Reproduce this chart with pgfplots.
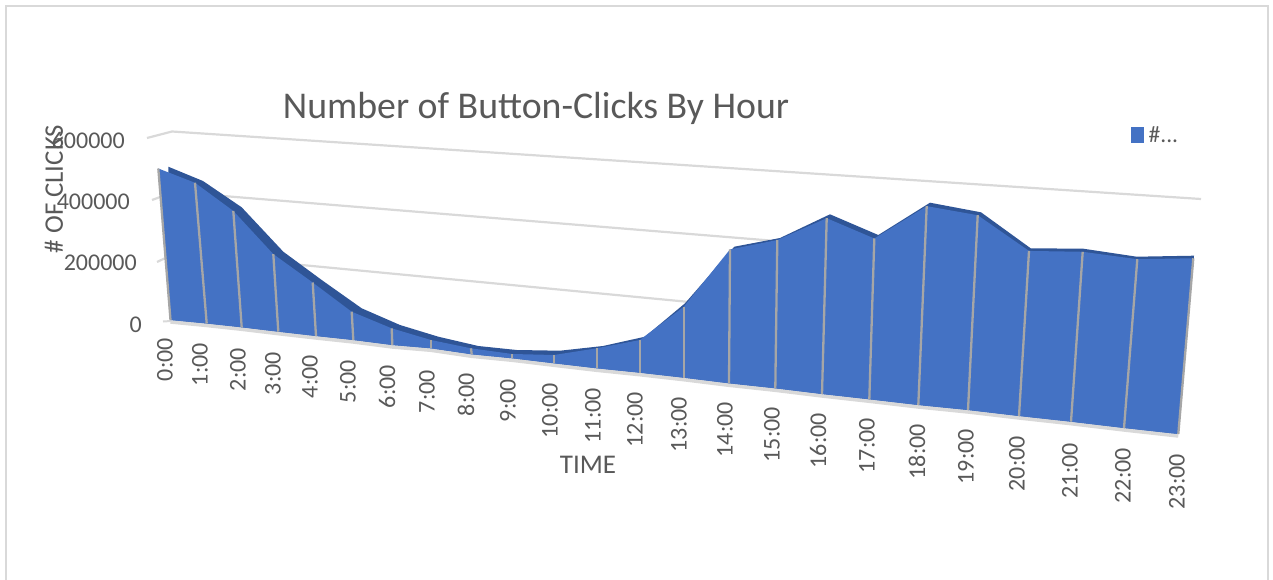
\documentclass[border=0pt]{standalone}
\usepackage{pgfplots}
\usepackage{pgfplotstable}
\usepackage{fontspec}
\setmainfont{Carlito}
\pgfplotsset{compat=1.18}
\definecolor{areablue}{HTML}{4472C4}
\definecolor{areadark}{HTML}{2F5597}
\definecolor{divgrey}{HTML}{A6A6A6}
\definecolor{wallgrey}{HTML}{D9D9D9}
\definecolor{txt}{HTML}{595959}
% clicks in thousands; the other columns place each hour on the slanted picture plane (pixels).
% Rows 24-47 walk back along the zero line, so that the rows together outline the filled area.
\pgfplotstableread{
hour clicks bx by tx backx backy
0 500.0 170.5 320.0 158.3 168.3 166.7
1 460.0 206.7 323.5 195.0 203.0 181.0
2 377.0 241.7 327.3 233.3 241.7 207.3
3 249.0 278.3 331.7 273.3 283.3 251.7
4 170.0 316.0 336.0 312.7 321.7 280.0
5 89.0 353.3 340.0 351.7 361.7 308.3
6 52.0 392.3 345.0 391.7 400.0 325.0
7 25.6 431.0 348.3 431.0 438.3 336.7
8 18.3 471.7 354.3 471.0 478.3 346.0
9 13.0 512.3 358.3 512.3 516.7 350.0
10 24.9 554.0 363.3 554.0 560.0 350.7
11 59.3 596.7 368.3 596.7 603.0 346.0
12 95.9 639.7 372.7 639.7 645.0 336.7
13 206.0 683.7 377.7 683.7 685.0 303.3
14 385.0 729.0 383.3 730.0 734.3 246.7
15 422.0 775.3 388.3 777.3 780.0 238.0
16 495.0 822.0 394.0 826.7 830.0 214.3
17 448.0 869.3 399.3 874.3 878.3 235.0
18 548.0 918.3 405.0 926.7 930.0 202.7
19 531.0 968.0 410.0 977.7 981.0 212.3
20 445.0 1019.0 416.0 1029.0 1030.7 248.3
21 453.0 1071.0 421.7 1082.7 1083.3 248.7
22 445.0 1124.0 428.0 1137.3 1136.7 256.7
23 458.0 1178.3 434.0 1193.3 1194.0 255.7
23 0 1178.3 434.0 1178.3 1178.3 434.0
22 0 1124.0 428.0 1124.0 1124.0 428.0
21 0 1071.0 421.7 1071.0 1071.0 421.7
20 0 1019.0 416.0 1019.0 1019.0 416.0
19 0 968.0 410.0 968.0 968.0 410.0
18 0 918.3 405.0 918.3 918.3 405.0
17 0 869.3 399.3 869.3 869.3 399.3
16 0 822.0 394.0 822.0 822.0 394.0
15 0 775.3 388.3 775.3 775.3 388.3
14 0 729.0 383.3 729.0 729.0 383.3
13 0 683.7 377.7 683.7 683.7 377.7
12 0 639.7 372.7 639.7 639.7 372.7
11 0 596.7 368.3 596.7 596.7 368.3
10 0 554.0 363.3 554.0 554.0 363.3
9 0 512.3 358.3 512.3 512.3 358.3
8 0 471.7 354.3 471.7 471.7 354.3
7 0 431.0 348.3 431.0 431.0 348.3
6 0 392.3 345.0 392.3 392.3 345.0
5 0 353.3 340.0 353.3 353.3 340.0
4 0 316.0 336.0 316.0 316.0 336.0
3 0 278.3 331.7 278.3 278.3 331.7
2 0 241.7 327.3 241.7 241.7 327.3
1 0 206.7 323.5 206.7 206.7 323.5
0 0 170.5 320.0 170.5 170.5 320.0
}\clicks
\newcommand{\topy}{\thisrow{by}-\thisrow{clicks}*(0.303+(\thisrow{bx}-170)*0.00008)}
\newcommand{\hl}[3]{\node[rotate=90, anchor=east, inner sep=0pt] at (axis cs:#2,#3) {\fontsize{24}{24}\selectfont #1};}
\begin{document}
\begin{tikzpicture}
\begin{axis}[
  at={(0,0)}, anchor=south west,
  scale only axis, width=1273pt, height=580pt,
  xmin=0, xmax=1273, ymin=0, ymax=580, y dir=reverse,
  hide axis, clip=true,
  nodes={text=txt},
  legend style={at={(0.8885,0.767)}, anchor=west, draw=none, fill=none,
    font=\fontsize{23.5}{24}\selectfont\color{txt}, inner sep=0pt,
    legend cell align=left},
]
% frame
\addplot[wallgrey, line width=2pt, forget plot] coordinates {(6,580) (6,6) (1268,6) (1268,580)};
% wall gridlines
\addplot[wallgrey, line width=2.2pt, forget plot] coordinates {(147,138) (172,131.5) (1201,199)};
\addplot[wallgrey, line width=2.2pt, forget plot] coordinates {(152,200) (174,192) (770,240.5)};
\addplot[wallgrey, line width=2.2pt, forget plot] coordinates {(157,262) (176,253) (700,303)};
% floor edge
\addplot[wallgrey, line width=3.5pt, forget plot, skip coords between index={24}{48}]
  table[x expr=\thisrow{bx}, y expr=\thisrow{by}+2] {\clicks};
\addplot[wallgrey, line width=2pt, forget plot] coordinates {(163,321.5) (171,321)};
% area: dark back ribbon, then the front face
\addplot[fill=areadark, draw=none, forget plot] table[x=backx, y=backy] {\clicks};
\addplot[fill=areablue, draw=none, forget plot] table[x=tx, y expr=\topy] {\clicks};
% hour dividers
\addplot[divgrey, line width=2.3pt, forget plot, skip coords between index={24}{48},
  quiver={u=\thisrow{tx}-\thisrow{bx}, v=-\thisrow{clicks}*(0.303+(\thisrow{bx}-170)*0.00008)}]
  table[x=bx, y=by] {\clicks};
\addlegendimage{legend image code/.code={\fill[areablue] (0pt,-7pt) rectangle (12pt,8pt);}}
\addlegendentry{\hspace{3pt}\#...}
% title and axis titles
\node[anchor=center, inner sep=0pt] at (axis cs:536,108) {\fontsize{37.8}{38}\selectfont Number of Button-Clicks By Hour};
\node[rotate=90, inner sep=0pt] at (axis cs:54,189) {\fontsize{26.8}{27}\selectfont \# OF CLICKS};
\node[inner sep=0pt] at (axis cs:588,465) {\fontsize{27}{27}\selectfont TIME};
% value labels
\node[anchor=east, inner sep=0pt] at (axis cs:125,140) {\fontsize{24}{24}\selectfont 600000};
\node[anchor=east, inner sep=0pt] at (axis cs:130,202) {\fontsize{24}{24}\selectfont 400000};
\node[anchor=east, inner sep=0pt] at (axis cs:137,263) {\fontsize{24}{24}\selectfont 200000};
\node[anchor=east, inner sep=0pt] at (axis cs:142,325) {\fontsize{24}{24}\selectfont 0};
% hour labels
\hl{0:00}{165}{338}\hl{1:00}{200}{343}\hl{2:00}{238}{348}\hl{3:00}{273}{352}
\hl{4:00}{310}{355}\hl{5:00}{348}{360}\hl{6:00}{387}{365}\hl{7:00}{427}{370}
\hl{8:00}{466}{373}\hl{9:00}{508}{379}\hl{10:00}{550}{383}\hl{11:00}{593}{388}
\hl{12:00}{635}{392}\hl{13:00}{679}{397}\hl{14:00}{725}{402}\hl{15:00}{772}{407}
\hl{16:00}{818}{413}\hl{17:00}{867}{418}\hl{18:00}{917}{424}\hl{19:00}{966}{429}
\hl{20:00}{1017}{436}\hl{21:00}{1070}{443}\hl{22:00}{1123}{448}\hl{23:00}{1177}{454}
\end{axis}
\path (0,0) rectangle (1273pt,580pt);
\end{tikzpicture}
\end{document}
